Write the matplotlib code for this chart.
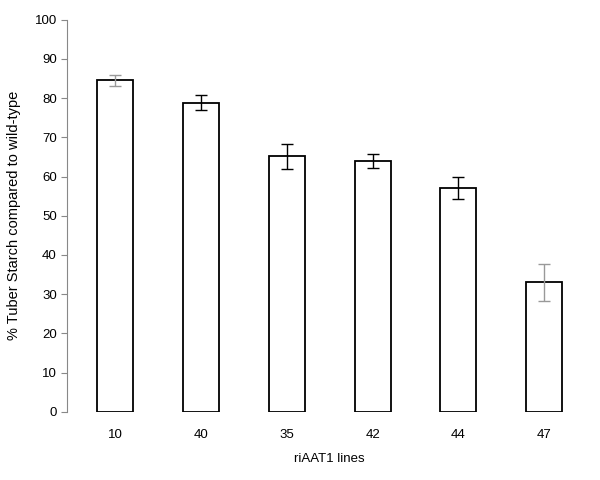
import matplotlib
matplotlib.use('Agg')
import matplotlib.pyplot as plt
import numpy as np

plt.rcParams['font.family'] = ['Liberation Sans', 'DejaVu Sans']

lines = ['10', '40', '35', '42', '44', '47']
starch = [84.5, 78.8, 65.2, 63.9, 57.0, 33.0]
err = [1.5, 1.9, 3.2, 1.8, 2.8, 4.8]
err_colors = ['#999999', 'black', 'black', 'black', 'black', '#999999']

fig = plt.figure(figsize=(6, 4.8), dpi=100)
ax = fig.add_axes([0.112, 0.142, 0.875, 0.817])

x = np.arange(len(lines))
ax.bar(x, starch, width=0.42, color='white', edgecolor='black', linewidth=1.3)
for i in range(len(lines)):
    ax.errorbar(x[i], starch[i], yerr=err[i], fmt='none', ecolor=err_colors[i],
                elinewidth=1.0, capsize=4, capthick=1.0)

ax.set_xlim(-0.56, 5.56)
ax.set_ylim(0, 100)
ax.set_yticks(np.arange(0, 101, 10))
ax.set_xticks(x)
ax.set_xticklabels(lines)
ax.tick_params(axis='x', length=0, labelsize=9.5, pad=12)
ax.tick_params(axis='y', length=4, color='#888888', labelsize=9.5, width=0.8)
for s in ['top', 'right', 'bottom']:
    ax.spines[s].set_visible(False)
ax.spines['left'].set_color('#888888')
ax.spines['left'].set_linewidth(0.8)

ax.set_xlabel('riAAT1 lines', fontsize=9.5, labelpad=9)
ax.set_ylabel('% Tuber Starch compared to wild-type', fontsize=10.5, labelpad=10)

fig.savefig('out.png', dpi=100)
